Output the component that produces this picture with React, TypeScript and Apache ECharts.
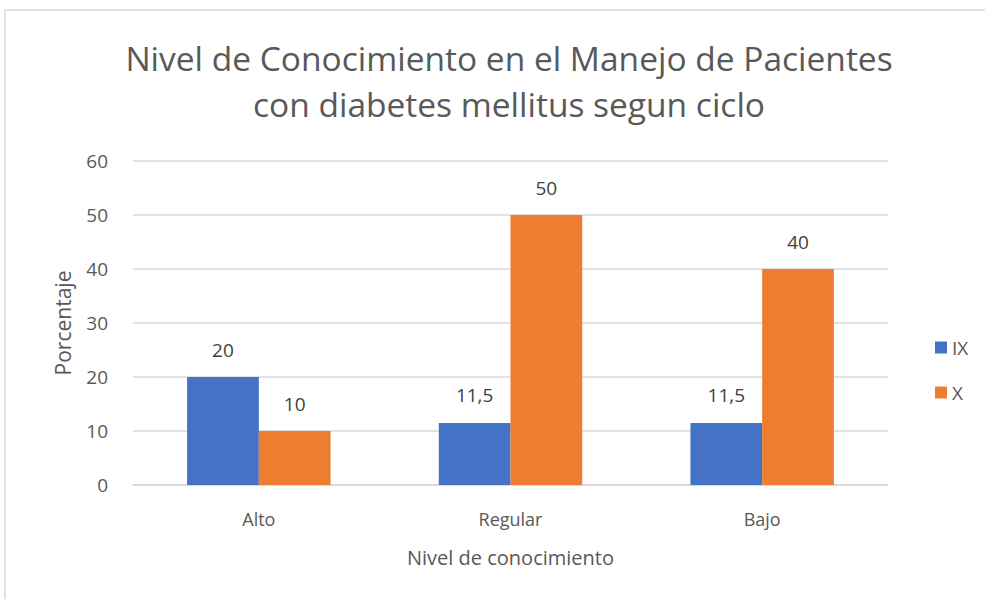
import React, { useEffect, useRef } from "react";
import * as echarts from "echarts";

const categories = ["Alto", "Regular", "Bajo"];
const seriesIX = [20, 11.5, 11.5];
const seriesX = [10, 50, 40];
const seriesNames = ["IX", "X"];
const titleLines = ["Nivel de Conocimiento en el Manejo de Pacientes", "con diabetes mellitus segun ciclo"];

export default function App() {
  const ref = useRef<HTMLDivElement>(null);
  useEffect(() => {
    if (!ref.current) return;
    const chart = echarts.init(ref.current, null, { renderer: "svg" });
    const font = "'Open Sans', 'Noto Sans', sans-serif";
    const fmt = (p: any) => String(p.value).replace(".", ",");
    chart.setOption({
      animation: false,
      backgroundColor: "#ffffff",
      textStyle: { fontFamily: font },
      title: {
        text: titleLines.join("\n"),
        left: 504,
        textAlign: "center",
        top: 30,
        textStyle: { fontFamily: font, fontSize: 33.5, fontWeight: "normal", color: "#595959", lineHeight: 46 },
      },
      graphic: [
        {
          type: "rect",
          shape: { x: 5, y: 10, width: 1000, height: 620 },
          style: { fill: "none", stroke: "#d9d9d9", lineWidth: 1.5 },
          silent: true,
        },
      ],
      legend: {
        orient: "vertical",
        left: 930,
        top: 333,
        itemWidth: 12,
        itemHeight: 12,
        itemGap: 26,
        icon: "rect",
        textStyle: { fontFamily: font, fontSize: 19, color: "#595959" },
        data: seriesNames,
      },
      grid: { left: 133, right: 97, top: 161, bottom: 114 },
      xAxis: {
        type: "category",
        data: categories,
        name: "Nivel de conocimiento",
        nameLocation: "middle",
        nameGap: 62,
        nameTextStyle: { fontFamily: font, fontSize: 20, color: "#595959" },
        axisLine: { lineStyle: { color: "#d9d9d9", width: 1.5 } },
        axisTick: { show: false },
        axisLabel: { fontFamily: font, fontSize: 18, color: "#595959", margin: 25 },
      },
      yAxis: {
        type: "value",
        min: 0,
        max: 60,
        interval: 10,
        name: "Porcentaje",
        nameLocation: "middle",
        nameGap: 60,
        nameTextStyle: { fontFamily: font, fontSize: 21, color: "#595959" },
        axisLine: { show: false },
        axisTick: { show: false },
        axisLabel: { fontFamily: font, fontSize: 19, color: "#595959", margin: 25 },
        splitLine: { lineStyle: { color: "#d9d9d9", width: 1.5 } },
      },
      series: [
        {
          name: seriesNames[0],
          type: "bar",
          data: seriesIX,
          barGap: "0%",
          barCategoryGap: "43%",
          itemStyle: { color: "#4472C4" },
          label: { show: true, position: "top", distance: 18, formatter: fmt, fontFamily: font, fontSize: 19, color: "#404040" },
        },
        {
          name: seriesNames[1],
          type: "bar",
          data: seriesX,
          barGap: "0%",
          barCategoryGap: "43%",
          itemStyle: { color: "#ED7D31" },
          label: { show: true, position: "top", distance: 18, formatter: fmt, fontFamily: font, fontSize: 19, color: "#404040" },
        },
      ],
    });
    return () => chart.dispose();
  }, []);
  return <div ref={ref} style={{ position: "fixed", left: 0, top: 0, width: 985, height: 599 }} />;
}
